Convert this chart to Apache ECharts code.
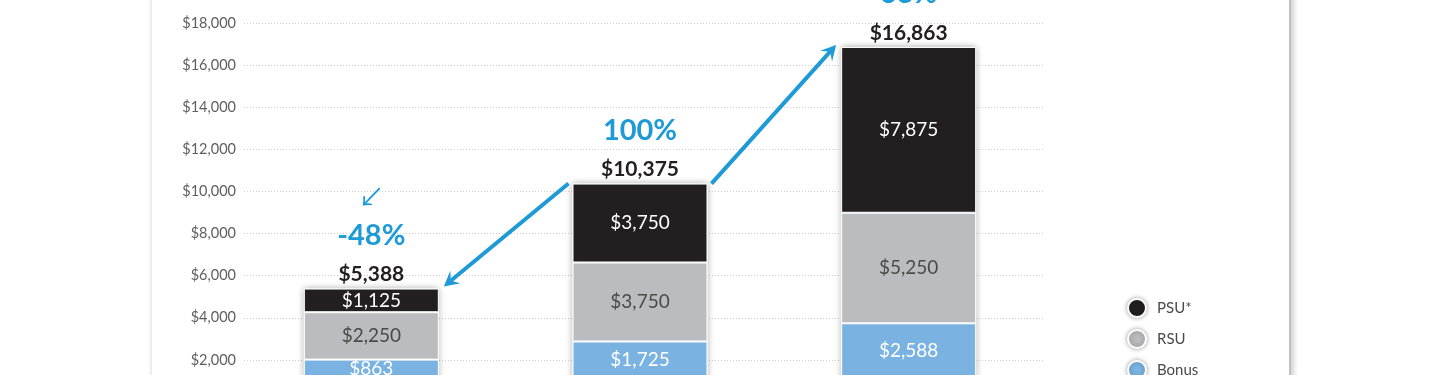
<!DOCTYPE html>
<html>
<head>
<meta charset="utf-8">
<script src="https://cdn.jsdelivr.net/npm/echarts@6/dist/echarts.min.js"></script>
<style>
  html, body { margin: 0; padding: 0; width: 1440px; height: 375px; overflow: hidden; background: #ffffff; }
  #card { position: absolute; left: 150px; top: -40px; width: 1137px; height: 520px; background: #fff;
          border-left: 2px solid #eeeeee; border-right: 2px solid #c2c2c2;
          box-shadow: 3px 0 5px rgba(0,0,0,0.18); }
  #chart { position: absolute; left: 0; top: 0; width: 1440px; height: 440px; }
</style>
</head>
<body>
<div id="card"></div>
<div id="chart"></div>
<script>
// ---- data ----
const categories = ['Year 1', 'Year 2', 'Year 3'];
const baseSalary = [1150, 1150, 1150];
const bonus = [863, 1725, 2588];
const rsu = [2250, 3750, 5250];
const psu = [1125, 3750, 7875];
const totals = [5388, 10375, 16863];
const changeLabels = ['-48%', '100%', '63%'];
const changeGlyphs = ['\u2199', '', ''];
const yTicks = [0, 2000, 4000, 6000, 8000, 10000, 12000, 14000, 16000, 18000];
// arrows: [fromCategoryIndex, fromValue, toCategoryIndex, toValue]
const arrows = [[1, 10375, 0, 5388], [1, 10375, 2, 16863]];

const BLUE = '#1e9ad6';
const FONT = 'Lato, "Open Sans", sans-serif';
const fmt = v => '$' + Number(v).toLocaleString('en-US');
const BAR_W = 135;

const chart = echarts.init(document.getElementById('chart'), null, { renderer: 'canvas' });

function segLabel(color) {
  return { show: true, position: 'inside', color: color, fontSize: 19, fontFamily: FONT,
           formatter: p => fmt(p.value) };
}
const segItem = c => ({ color: c, borderColor: '#ffffff', borderWidth: 1 });

const option = {
  animation: false,
  textStyle: { fontFamily: FONT },
  grid: [
    { left: 244, right: 395, top: 23, bottom: 38 },
    { left: 237, right: 397, top: 23, bottom: 38 }
  ],
  xAxis: [
    { gridIndex: 0, type: 'category', data: categories, show: false },
    { gridIndex: 1, type: 'category', data: categories,
      axisLine: { show: false }, axisTick: { show: false },
      axisLabel: { color: '#555', fontSize: 14 } }
  ],
  yAxis: [
    { gridIndex: 0, type: 'value', min: yTicks[0], max: yTicks[yTicks.length - 1], interval: 2000,
      axisLine: { show: false }, axisTick: { show: false },
      axisLabel: { color: '#5e5e5e', fontSize: 14.5, margin: 8, formatter: v => fmt(v) },
      splitLine: { lineStyle: { color: '#cfcfcf', type: [1, 2], width: 1 } } },
    { gridIndex: 1, type: 'value', min: yTicks[0], max: yTicks[yTicks.length - 1], interval: 2000,
      show: false, splitLine: { show: false } }
  ],
  legend: {
    orient: 'vertical', left: 1127, top: 298, padding: 0,
    icon: 'circle', itemWidth: 18, itemHeight: 18, itemGap: 11,
    data: ['PSU*', 'RSU', 'Bonus', 'Base Salary'],
    itemStyle: { borderColor: '#ffffff', borderWidth: 2, shadowBlur: 5, shadowColor: 'rgba(0,0,0,0.35)' },
    textStyle: { color: '#4a4a4a', fontSize: 15, lineHeight: 18, fontFamily: FONT, padding: [0, 0, 0, 6] }
  },
  series: [
    { name: 'Total', type: 'bar', xAxisIndex: 1, yAxisIndex: 1, data: totals, barWidth: BAR_W, barGap: '-100%', z: 1,
      itemStyle: { color: '#ffffff', borderColor: '#ffffff', borderWidth: 3, shadowBlur: 7, shadowColor: 'rgba(0,0,0,0.28)' },
      label: { show: true, position: 'top', distance: 1,
        formatter: p => '{arr|' + changeGlyphs[p.dataIndex] + '}\n{pct|' + changeLabels[p.dataIndex] + '}\n{tot|' + fmt(p.value) + '}',
        rich: {
          arr: { fontFamily: '"Noto Sans CJK SC", "DejaVu Sans", sans-serif', fontSize: 26, lineHeight: 24, color: BLUE, align: 'center' },
          pct: { fontFamily: FONT, fontWeight: 'bold', fontSize: 29, lineHeight: 52, color: BLUE, align: 'center' },
          tot: { fontFamily: FONT, fontWeight: 'bold', fontSize: 21, lineHeight: 26, color: '#231f20', align: 'center' }
        } },
      emphasis: { disabled: true } },
    { name: 'Base Salary', type: 'bar', stack: 'c', xAxisIndex: 1, yAxisIndex: 1, data: baseSalary, barWidth: BAR_W, z: 2,
      itemStyle: segItem('#2f6ea8'), label: segLabel('#ffffff') },
    { name: 'Bonus', type: 'bar', stack: 'c', xAxisIndex: 1, yAxisIndex: 1, data: bonus, barWidth: BAR_W, z: 2,
      itemStyle: segItem('#7ab3e1'), label: segLabel('#ffffff') },
    { name: 'RSU', type: 'bar', stack: 'c', xAxisIndex: 1, yAxisIndex: 1, data: rsu, barWidth: BAR_W, z: 2,
      itemStyle: segItem('#bbbcc0'), label: segLabel('#4a4a4a') },
    { name: 'PSU*', type: 'bar', stack: 'c', xAxisIndex: 1, yAxisIndex: 1, data: psu, barWidth: BAR_W, z: 2,
      itemStyle: segItem('#231f20'), label: segLabel('#ffffff') },
    { name: 'Change', type: 'custom', xAxisIndex: 1, yAxisIndex: 1, data: arrows, z: 5, clip: false,
      encode: { x: [0, 2], y: [1, 3] },
      renderItem: function (params, api) {
        const p0 = api.coord([api.value(0), api.value(1)]);
        const p1 = api.coord([api.value(2), api.value(3)]);
        const dir = Math.sign(p1[0] - p0[0]);
        const half = BAR_W / 2;
        const tail = [p0[0] + dir * (half + 4), p0[1]];
        const tip = [p1[0] - dir * (half + 5), p1[1] - 2];
        const dx = tip[0] - tail[0], dy = tip[1] - tail[1];
        const len = Math.hypot(dx, dy);
        const u = [dx / len, dy / len];
        const n = [-u[1], u[0]];
        const L = 15, W = 8;
        const back = [tip[0] - L * u[0], tip[1] - L * u[1]];
        const notch = [tip[0] - 0.6 * L * u[0], tip[1] - 0.6 * L * u[1]];
        return {
          type: 'group',
          children: [
            { type: 'line', shape: { x1: tail[0], y1: tail[1], x2: notch[0], y2: notch[1] },
              style: { stroke: BLUE, lineWidth: 4 } },
            { type: 'polygon', shape: { points: [tip, [back[0] + W * n[0], back[1] + W * n[1]], notch, [back[0] - W * n[0], back[1] - W * n[1]]] },
              style: { fill: BLUE } }
          ]
        };
      } }
  ]
};
chart.setOption(option);
</script>
</body>
</html>
